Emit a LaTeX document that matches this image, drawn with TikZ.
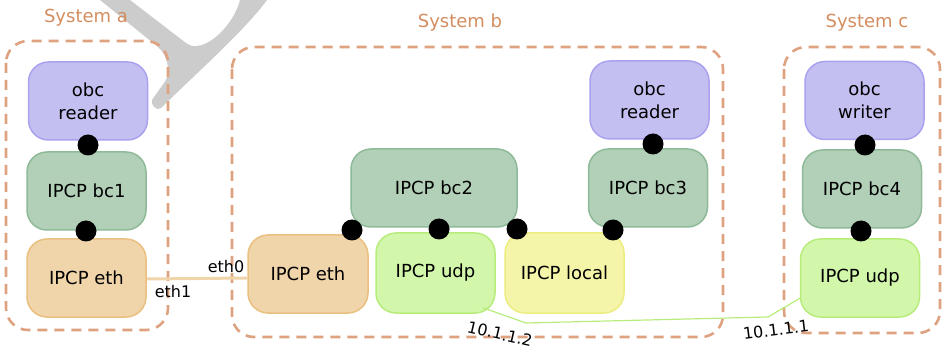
\documentclass[tikz,border=0pt]{standalone}
\usepackage{fontspec}
\setmainfont{DejaVu Sans}
\usepackage{tikz}

\definecolor{obcfill}{RGB}{195,191,241}
\definecolor{obcline}{RGB}{170,162,238}
\definecolor{bcfill}{RGB}{178,208,184}
\definecolor{bcline}{RGB}{142,186,152}
\definecolor{ethfill}{RGB}{240,212,170}
\definecolor{ethline}{RGB}{233,192,128}
\definecolor{udpfill}{RGB}{210,246,170}
\definecolor{udpline}{RGB}{184,236,124}
\definecolor{locfill}{RGB}{245,245,170}
\definecolor{locline}{RGB}{236,236,128}
\definecolor{sysline}{RGB}{222,162,128}
\definecolor{systext}{RGB}{211,141,95}
\definecolor{markgray}{RGB}{204,204,204}

\tikzset{
    ipcp/.style={draw, line width=1.5pt, rounded corners=20pt, minimum width=119pt, minimum height=78pt,
        inner sep=0pt, align=center, font=\fontsize{18}{23}\selectfont},
    obc/.style={ipcp, fill=obcfill, draw=obcline},
    bc/.style={ipcp, fill=bcfill, draw=bcline},
    eth/.style={ipcp, fill=ethfill, draw=ethline},
    udp/.style={ipcp, fill=udpfill, draw=udpline},
    loc/.style={ipcp, fill=locfill, draw=locline},
    sysbox/.style={draw=sysline, line width=2.6pt, dash pattern=on 10pt off 7pt, rounded corners=22pt},
    syslabel/.style={text=systext, font=\fontsize{18}{20}\selectfont},
    port/.style={circle, fill=black, inner sep=0pt, minimum size=21pt},
    addr/.style={inner sep=0pt, font=\fontsize{16}{18}\selectfont},
    ethlink/.style={draw=ethfill, line width=3pt},
    udplink/.style={draw=udpline, line width=1.2pt}
}

\begin{document}
\begin{tikzpicture}[x=1pt, y=-1pt]
        \useasboundingbox (0,0) rectangle (942,347);
        \fill[markgray] (100,0) -- (158,47) .. controls (168,56) and (170,70) .. (166,80) -- (152,100)
            .. controls (150,104) and (157,112) .. (161,108) .. controls (200,70) and (245,30) .. (267,0)
            -- (240,0) .. controls (235,20) and (215,44) .. (197,46) .. controls (192,47) and (189,45) .. (186,43)
            -- (130,0) -- cycle;
        \draw[sysbox] (6,41) rectangle (168,330);
        \draw[sysbox] (232,47) rectangle (723,337);
        \draw[sysbox] (784,47) rectangle (940,333);
        \node[syslabel] (sysa) at (86,18) {System a};
        \node[syslabel] (sysb) at (460,23) {System b};
        \node[syslabel] (sysc) at (867,23) {System c};
        \node[obc] (readera) at (88,101) {obc\\reader};
        \node[bc] (bc1) at (86.5,191) {IPCP bc1};
        \node[eth] (etha) at (86.5,278) {IPCP eth};
        \node[eth, minimum width=120pt] (ethb) at (308,274) {IPCP eth};
        \node[udp, minimum height=80pt] (udpb) at (435.5,273) {IPCP udp};
        \node[bc, minimum width=166pt] (bc2) at (434,188) {IPCP bc2};
        \node[loc, minimum height=80pt] (local) at (564.5,273) {IPCP local};
        \node[bc] (bc3) at (648,188) {IPCP bc3};
        \node[obc] (readerb) at (649.5,100) {obc\\reader};
        \node[obc] (writer) at (864.5,100.5) {obc\\writer};
        \node[bc] (bc4) at (862,189) {IPCP bc4};
        \node[udp] (udpc) at (860,278) {IPCP udp};
        \draw[ethlink] ([yshift=-1pt]etha.east) -- ([yshift=-4pt]ethb.west);
        \node[addr] (eth1) at (173,292) {eth1};
        \node[addr] (eth0) at (226,267) {eth0};
        \draw[udplink] ([shift={(-13,-6)}]udpb.south east) -- (526,323) -- (768,317) -- ([shift={(1,-20)}]udpc.south west);
        \node[addr, rotate=-13] (ipb) at (500,334) {10.1.1.2};
        \node[addr, rotate=7] (ipc) at (776,330) {10.1.1.1};
        \node[port] (pa1) at (88,145) {};
        \node[port] (pa2) at (86,231) {};
        \node[port] (pb1) at (352,230) {};
        \node[port] (pb2) at (439,229) {};
        \node[port] (pb3) at (517,229) {};
        \node[port] (pb4) at (613,230) {};
        \node[port] (pb5) at (653,144) {};
        \node[port] (pc1) at (865,145) {};
        \node[port] (pc2) at (861,231) {};
\end{tikzpicture}
\end{document}
